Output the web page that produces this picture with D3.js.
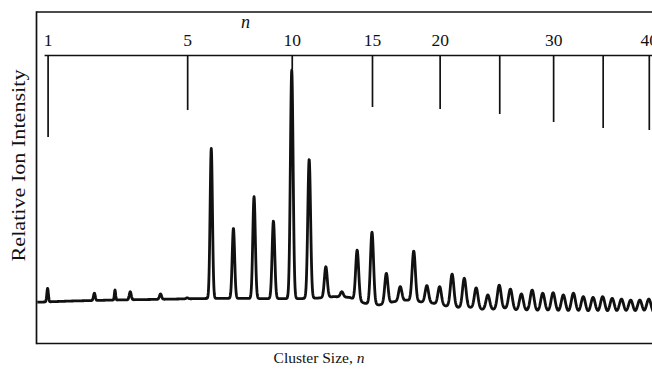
<!DOCTYPE html>
<html>
<head>
<meta charset="utf-8">
<script src="https://cdn.jsdelivr.net/npm/d3@7"></script>
<style>
  html, body { margin: 0; padding: 0; background: #fff; }
  svg { display: block; }
  text { font-family: "Liberation Serif", "Times New Roman", serif; fill: #111; }
</style>
</head>
<body>
<svg id="chart" width="652" height="371"></svg>
<script>
// Cluster sizes n = 1..40 and the peak height of each (relative units, n = 10 set to 100)
const clusterSizes = d3.range(1, 41);
const peakIntensity = [
  10.9, 8.9, 9.5, 8.6, 7.0, 68.0, 35.4, 48.3, 38.4, 100,
  63.6, 19.7, 9.5, 26.5, 33.8, 17.0, 11.6, 26.1, 12.0, 11.6,
  16.7, 15.0, 11.1, 8.2, 12.2, 10.6, 8.6, 10.2, 8.9, 9.1,
  8.2, 8.9, 7.5, 7.2, 7.5, 6.8, 6.5, 6.1, 6.1, 6.5
];
// Level of the trace in the gap after each cluster size (between n and n+1)
const valleyLevel = [
  5.7, 6.1, 6.3, 6.5, 6.7, 6.8, 6.8, 6.7, 6.7, 6.7,
  6.9, 7.5, 7.2, 4.8, 4.1, 5.4, 6.1, 5.4, 4.8, 3.7,
  3.1, 3.1, 2.3, 2.3, 2.7, 2.0, 1.8, 1.6, 1.6, 1.4,
  1.2, 1.2, 1.0, 1.0, 0.8, 0.8, 0.8, 0.6, 0.6, 0.6
];
const startLevel = 5.2;
// A stray spike between n = 2 and n = 3
const strayPeakAt = [2.55];
const strayPeakIntensity = [10.2];

// Top scale: tick positions and their labels (25 and 35 are unlabeled)
const tickSizes = [1, 5, 10, 15, 20, 25, 30, 35, 40];
const tickLabels = ["1", "5", "10", "15", "20", "", "30", "", "40"];

// ---- layout ----
const W = 652, H = 371;
const frame = { left: 36.5, top: 12, bottom: 343.5, right: W };
const axisY = 55.5;
// how far each tick hangs below the top scale line (px)
const tickDrop = [81.5, 54.5, 14, 51.5, 53.5, 58.5, 66.5, 72.5, 74.5];

const svg = d3.select("#chart");

// flight-time axis: position grows with sqrt(n)
const x = d3.scalePow().exponent(0.5).domain([1, 40]).range([47.6, 648.8]);
const y = d3.scaleLinear().domain([0, 100]).range([315, 70]);

// frame
const ink = "#111";
svg.append("line").attr("x1", frame.left).attr("x2", frame.right)
  .attr("y1", frame.top).attr("y2", frame.top)
  .attr("stroke", ink).attr("stroke-width", 1.7);
svg.append("line").attr("x1", frame.left).attr("x2", frame.left)
  .attr("y1", frame.top - 0.8).attr("y2", frame.bottom + 0.8)
  .attr("stroke", ink).attr("stroke-width", 1.7);
svg.append("line").attr("x1", frame.left).attr("x2", frame.right)
  .attr("y1", frame.bottom).attr("y2", frame.bottom)
  .attr("stroke", ink).attr("stroke-width", 1.7);

// top scale line
svg.append("line").attr("x1", x.range()[0] - 3).attr("x2", W)
  .attr("y1", axisY).attr("y2", axisY)
  .attr("stroke", ink).attr("stroke-width", 1.7);

// top scale labels and hanging ticks
const axis = d3.axisTop(x)
  .tickValues(tickSizes)
  .tickFormat((d, i) => tickLabels[i])
  .tickSize(0)
  .tickPadding(10);
const gAxis = svg.append("g").attr("transform", `translate(0,${axisY})`).call(axis);
gAxis.select(".domain").remove();
gAxis.selectAll(".tick text")
  .attr("font-family", '"Liberation Serif", "Times New Roman", serif')
  .attr("font-size", 17.5)
  .attr("fill", ink);
gAxis.selectAll(".tick line")
  .attr("y1", 0)
  .attr("y2", (d, i) => tickDrop[i])
  .attr("stroke", ink)
  .attr("stroke-width", 1.7);

// italic n above the scale
svg.append("text").attr("x", 245.5).attr("y", 28)
  .attr("text-anchor", "middle").attr("font-size", 18)
  .attr("font-style", "italic").text("n");

// ---- spectrum trace ----
const peaks = clusterSizes.map((n, i) => ({ n, v: peakIntensity[i] }))
  .concat(strayPeakAt.map((n, i) => ({ n, v: strayPeakIntensity[i], narrow: true })));

// piecewise level between peaks, anchored at the midpoints of neighbouring sizes
const floorPx = [frame.left].concat(clusterSizes.map(n => (x(n) + x(n + 1)) / 2));
const floorVal = [startLevel].concat(valleyLevel);
const floorAt = d3.scaleLinear().domain(floorPx).range(floorVal).clamp(true);

// peak width grows slowly with cluster size (constant resolving power)
const sigma = n => 0.5 + 0.27 * Math.sqrt(n);

peaks.forEach(p => {
  p.px = x(p.n);
  p.s = p.narrow ? 0.6 : sigma(p.n);
  p.h = p.v - floorAt(p.px);
});

const samples = [];
const nStart = x.invert(frame.left + 0.8), nEnd = x.invert(W + 2);
for (let px = x(nStart); px <= x(nEnd); px += 0.25) {
  let v = floorAt(px);
  for (const p of peaks) {
    const d = (px - p.px) / p.s;
    if (Math.abs(d) < 8) v += p.h * Math.exp(-0.5 * d * d);
  }
  samples.push({ n: x.invert(px), v });
}

svg.append("path")
  .datum(samples)
  .attr("fill", "none")
  .attr("stroke", ink)
  .attr("stroke-width", 2.8)
  .attr("stroke-linejoin", "round")
  .attr("d", d3.line().x(d => x(d.n)).y(d => y(d.v)));

// ---- axis titles ----
svg.append("text")
  .attr("transform", "translate(25,165.5) rotate(-90)")
  .attr("text-anchor", "middle")
  .attr("font-size", 18.5)
  .attr("textLength", 192)
  .attr("lengthAdjust", "spacingAndGlyphs")
  .text("Relative Ion Intensity");

const xt = svg.append("text")
  .attr("x", 319).attr("y", 363.3)
  .attr("text-anchor", "middle")
  .attr("font-size", 15.5);
xt.append("tspan").text("Cluster Size, ");
xt.append("tspan").attr("font-style", "italic").text("n");
</script>
</body>
</html>
